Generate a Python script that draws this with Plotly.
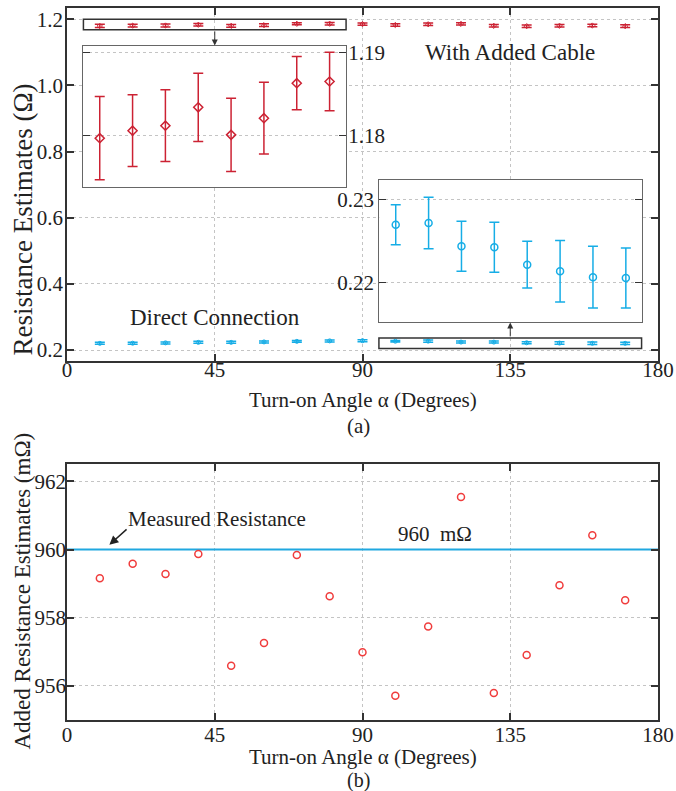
import plotly.graph_objects as go

# ---------------- data ----------------
angles = [10, 20, 30, 40, 50, 60, 70, 80, 90, 100, 110, 120, 130, 140, 150, 160, 170]
cable_res = [1.1797, 1.1806, 1.1812, 1.1834, 1.1801, 1.1821, 1.1863, 1.1865, 1.1855,
             1.1827, 1.1849, 1.1860, 1.1801, 1.1791, 1.1804, 1.1811, 1.1791]
cable_err = [0.0050, 0.0043, 0.0043, 0.0041, 0.0044, 0.0043, 0.0032, 0.0035, 0.0035,
             0.0037, 0.0036, 0.0034, 0.0038, 0.0039, 0.0037, 0.0038, 0.0040]
direct_res = [0.2205, 0.2210, 0.2219, 0.2235, 0.2235, 0.2248, 0.2265, 0.2279, 0.2285,
              0.2270, 0.2272, 0.2244, 0.2243, 0.2222, 0.2214, 0.2207, 0.2206]
direct_err = [0.0030, 0.0030, 0.0030, 0.0030, 0.0030, 0.0030, 0.0030, 0.0030, 0.0030,
              0.0024, 0.0031, 0.0030, 0.0030, 0.0028, 0.0037, 0.0037, 0.0036]
added_res = [959.16, 959.58, 959.28, 959.87, 956.59, 957.26, 959.84, 958.63, 956.99,
             955.71, 957.74, 961.54, 955.79, 956.91, 958.95, 960.42, 958.51]
measured_res = 960
x_ticks = [0, 45, 90, 135, 180]
top_y_ticks = [0.2, 0.4, 0.6, 0.8, 1.0, 1.2]
bot_y_ticks = [956, 958, 960, 962]
inset_red_ticks = [1.18, 1.19]
inset_blue_ticks = [0.22, 0.23]

RED = "#cc2233"
BLUE = "#16ade6"
RED2 = "#f03c3c"
BLUE2 = "#20a8e0"
AX = "#333333"
TXT = "#222222"
GRID = "#c4c4c4"
FONT = "Liberation Serif"

fig = go.Figure()

# main top
fig.add_trace(go.Scatter(x=angles, y=cable_res, mode="markers", xaxis="x", yaxis="y",
    marker=dict(symbol="diamond-open", size=4, color=RED, line=dict(width=1)),
    error_y=dict(type="data", array=cable_err, color=RED, thickness=1.5, width=5),
    showlegend=False))
fig.add_trace(go.Scatter(x=angles, y=direct_res, mode="markers", xaxis="x", yaxis="y",
    marker=dict(symbol="circle-open", size=4, color=BLUE, line=dict(width=1)),
    error_y=dict(type="data", array=direct_err, color=BLUE, thickness=1.5, width=5),
    showlegend=False))

# red inset (first 8 points)
fig.add_trace(go.Scatter(x=angles[:8], y=cable_res[:8], mode="markers", xaxis="x3", yaxis="y3",
    marker=dict(symbol="diamond-open", size=7, color=RED, line=dict(width=1.5)),
    error_y=dict(type="data", array=cable_err[:8], color=RED, thickness=1.5, width=5),
    showlegend=False))
# blue inset (last 8 points)
fig.add_trace(go.Scatter(x=angles[9:], y=direct_res[9:], mode="markers", xaxis="x4", yaxis="y4",
    marker=dict(symbol="circle-open", size=7, color=BLUE, line=dict(width=1.5)),
    error_y=dict(type="data", array=direct_err[9:], color=BLUE, thickness=1.5, width=5),
    showlegend=False))

# bottom
fig.add_trace(go.Scatter(x=[x_ticks[0], x_ticks[-1]], y=[measured_res, measured_res], mode="lines",
    xaxis="x2", yaxis="y2", line=dict(color=BLUE2, width=2), showlegend=False))
fig.add_trace(go.Scatter(x=angles, y=added_res, mode="markers", xaxis="x2", yaxis="y2",
    marker=dict(symbol="circle-open", size=7, color=RED2, line=dict(width=1.5)),
    showlegend=False))

tickfont = dict(family=FONT, size=21, color=TXT)
main_ax = dict(showline=True, linecolor=AX, linewidth=1.8, mirror="ticks", ticks="inside",
               ticklen=7, tickcolor=AX, tickwidth=1.5, showgrid=True, gridcolor=GRID,
               griddash="3px,3px", gridwidth=1, zeroline=False, tickfont=tickfont,
               automargin=False)
inset_y = dict(showline=True, linecolor="#666666", linewidth=1, mirror="ticks", ticks="inside",
               ticklen=7, tickcolor=AX, tickwidth=1, showgrid=True, gridcolor=GRID,
               griddash="3px,3px", gridwidth=1, zeroline=False, tickfont=tickfont,
               automargin=False)
inset_x = dict(showline=True, linecolor="#666666", linewidth=1, mirror=True, ticks="",
               showticklabels=False, showgrid=False, zeroline=False, automargin=False)

fig.update_layout(
    width=676, height=791, autosize=False,
    margin=dict(l=67, r=18, t=8, b=71, autoexpand=False),
    paper_bgcolor="white", plot_bgcolor="white",
    font=dict(family=FONT, color=TXT),
    xaxis=dict(main_ax, domain=[0, 1], anchor="y", range=[0, 180], tickvals=x_ticks,
               ticklabelstandoff=-11),
    yaxis=dict(main_ax, domain=[0.5046, 1], anchor="x", range=[0.168, 1.234],
               tickvals=top_y_ticks, tickformat=".1f", ticklabelstandoff=-2),
    xaxis2=dict(main_ax, domain=[0, 1], anchor="y2", range=[0, 180], tickvals=x_ticks,
                ticklabelstandoff=-5),
    yaxis2=dict(main_ax, domain=[0, 0.3591], anchor="x2", range=[955, 962.5],
                tickvals=bot_y_ticks, ticklabelstandoff=-5),
    xaxis3=dict(inset_x, domain=[0.0276, 0.4721], anchor="y3", range=[5, 85]),
    yaxis3=dict(inset_y, domain=[0.7482, 0.9470], anchor="x3", side="right",
                range=[1.17381, 1.19079], tickvals=inset_red_ticks, tickformat=".2f",
                ticklabelstandoff=-3),
    xaxis4=dict(inset_x, domain=[0.5284, 0.9734], anchor="y4", range=[95, 175]),
    yaxis4=dict(inset_y, domain=[0.5586, 0.7580], anchor="x4", side="left",
                range=[0.21528, 0.23233], tickvals=inset_blue_ticks, tickformat=".2f",
                ticklabelstandoff=0),
)

# zoom boxes
fig.add_shape(type="rect", xref="x", yref="y", x0=5, x1=85, y0=1.168, y1=1.200,
              line=dict(color=AX, width=1.5))
fig.add_shape(type="rect", xref="x", yref="y", x0=95, x1=175, y0=0.205, y1=0.237,
              line=dict(color=AX, width=1.5))


def txt(x, y, s, size, xref="paper", yref="paper", **kw):
    d = dict(xref=xref, yref=yref, x=x, y=y, text=s, showarrow=False,
             xanchor="center", yanchor="middle",
             font=dict(family=FONT, size=size, color=TXT))
    d.update(kw)
    return d


ann = []
ann.append(dict(xref="x", yref="y", x=45, y=1.1205, ax=45, ay=1.168, axref="x", ayref="y",
                text="", showarrow=True, arrowhead=2, arrowsize=1.2, arrowwidth=1, arrowcolor=AX))
ann.append(dict(xref="x", yref="y", x=135, y=0.2834, ax=135, ay=0.237, axref="x", ayref="y",
                text="", showarrow=True, arrowhead=2, arrowsize=1.2, arrowwidth=1, arrowcolor=AX))
ann.append(txt(135, 1.099, "With Added Cable", 23, "x", "y"))
ann.append(txt(45, 0.30, "Direct Connection", 23, "x", "y"))
ann.append(txt(45.8, 960.9, "Measured Resistance", 21, "x2", "y2"))
ann.append(dict(xref="x2", yref="y2", x=12.9, y=960.14, ax=18.6, ay=960.63, axref="x2", ayref="y2",
                text="", showarrow=True, arrowhead=2, arrowsize=1.2, arrowwidth=1.5, arrowcolor=TXT))
ann.append(txt(112.2, 960.04, "960  mΩ", 21, "x2", "y2", yanchor="bottom"))
# axis titles
ann.append(txt(0.5, 0.4494, "Turn-on Angle α (Degrees)", 21))
ann.append(txt(0.493, 0.4129, "(a)", 21))
ann.append(txt(0.5, -0.0520, "Turn-on Angle α (Degrees)", 21))
ann.append(txt(0.493, -0.0848, "(b)", 20))
ann.append(txt(-0.0736, 0.7022, "Resistance Estimates (Ω)", 27, textangle=-90))
ann.append(txt(-0.0761, 0.1805, "Added Resistance Estimates (mΩ)", 23, textangle=-90))
fig.update_layout(annotations=ann)

fig.write_html("out.html", config={"displayModeBar": False},
               post_script="document.body.style.margin='0';document.body.style.overflow='hidden';")
